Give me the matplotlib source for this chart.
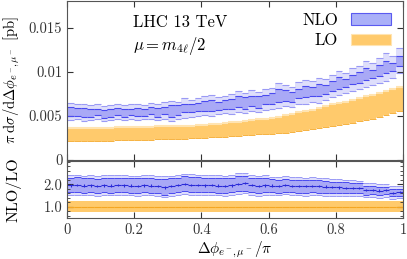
import matplotlib
matplotlib.use("Agg")
import matplotlib.pyplot as plt
import matplotlib.patches as mpatches
from matplotlib.ticker import MultipleLocator
import numpy as np

plt.rcParams['font.family'] = 'serif'
plt.rcParams['font.serif'] = ['cmr10']
plt.rcParams['mathtext.fontset'] = 'cm'
plt.rcParams['axes.formatter.use_mathtext'] = True

# bin edges of the distribution (50 bins in dphi/pi)
edges = np.linspace(0.0, 1.0, 51)

# NLO band in pb: outer edges and MC error strip width
nlo_hi = [0.0065, 0.0063, 0.0064, 0.0062, 0.0063, 0.0061, 0.0062, 0.0064, 0.0062, 0.0063,
          0.0064, 0.0062, 0.0065, 0.0063, 0.0066, 0.0067, 0.0066, 0.0070, 0.0068, 0.0070,
          0.0072, 0.0074, 0.0071, 0.0073, 0.0075, 0.0078, 0.0076, 0.0079, 0.0077, 0.0080,
          0.0082, 0.0087, 0.0085, 0.0083, 0.0088, 0.0091, 0.0089, 0.0093, 0.0092, 0.0096,
          0.0101, 0.0099, 0.0104, 0.0107, 0.0112, 0.0110, 0.0116, 0.0121, 0.0118, 0.0127]
nlo_lo = [0.0045, 0.0046, 0.0044, 0.0045, 0.0046, 0.0044, 0.0045, 0.0046, 0.0045, 0.0046,
          0.0045, 0.0046, 0.0047, 0.0045, 0.0046, 0.0044, 0.0047, 0.0048, 0.0049, 0.0050,
          0.0051, 0.0050, 0.0052, 0.0053, 0.0052, 0.0054, 0.0053, 0.0055, 0.0054, 0.0057,
          0.0058, 0.0059, 0.0061, 0.0060, 0.0063, 0.0064, 0.0066, 0.0065, 0.0068, 0.0071,
          0.0074, 0.0076, 0.0078, 0.0080, 0.0083, 0.0085, 0.0087, 0.0090, 0.0093, 0.0098]
nlo_err = [0.0005, 0.0004, 0.0005, 0.0004, 0.0005, 0.0004, 0.0004, 0.0005, 0.0004, 0.0005,
           0.0005, 0.0004, 0.0005, 0.0004, 0.0006, 0.0005, 0.0004, 0.0006, 0.0005, 0.0005,
           0.0005, 0.0006, 0.0005, 0.0005, 0.0006, 0.0006, 0.0005, 0.0006, 0.0005, 0.0006,
           0.0006, 0.0007, 0.0006, 0.0006, 0.0007, 0.0007, 0.0006, 0.0007, 0.0007, 0.0007,
           0.0007, 0.0007, 0.0008, 0.0007, 0.0008, 0.0008, 0.0008, 0.0009, 0.0008, 0.0009]

# LO band in pb
lo_hi = [0.0036, 0.0036, 0.0036, 0.0036, 0.0036, 0.0036, 0.0036, 0.0037, 0.0037, 0.0037,
         0.0037, 0.0037, 0.0037, 0.0038, 0.0038, 0.0038, 0.0038, 0.0039, 0.0039, 0.0040,
         0.0040, 0.0041, 0.0041, 0.0042, 0.0043, 0.0043, 0.0044, 0.0045, 0.0046, 0.0047,
         0.0048, 0.0049, 0.0051, 0.0052, 0.0054, 0.0055, 0.0057, 0.0059, 0.0061, 0.0063,
         0.0065, 0.0066, 0.0068, 0.0070, 0.0072, 0.0074, 0.0076, 0.0078, 0.0080, 0.0083]
lo_lo = [0.0022, 0.0022, 0.0022, 0.0022, 0.0022, 0.0022, 0.0022, 0.0023, 0.0023, 0.0023,
         0.0023, 0.0023, 0.0023, 0.0024, 0.0024, 0.0024, 0.0024, 0.0024, 0.0025, 0.0025,
         0.0025, 0.0026, 0.0026, 0.0026, 0.0027, 0.0027, 0.0028, 0.0028, 0.0029, 0.0029,
         0.0030, 0.0031, 0.0031, 0.0032, 0.0033, 0.0034, 0.0035, 0.0036, 0.0037, 0.0039,
         0.0040, 0.0041, 0.0042, 0.0044, 0.0045, 0.0047, 0.0049, 0.0051, 0.0053, 0.0056]

# ratio NLO/LO
r_c = [1.95, 1.96, 1.94, 1.95, 1.93, 1.95, 1.94, 1.96, 1.95, 1.94,
       1.93, 1.95, 1.94, 1.92, 1.86, 1.93, 1.96, 2.00, 1.98, 1.97,
       1.95, 1.96, 1.94, 1.93, 1.95, 2.02, 2.04, 1.96, 1.93, 1.95,
       1.94, 1.92, 1.96, 1.93, 1.92, 1.91, 1.93, 1.92, 1.90, 1.89,
       1.86, 1.85, 1.83, 1.84, 1.74, 1.75, 1.72, 1.74, 1.62, 1.66]
r_hi = [2.40, 2.42, 2.38, 2.40, 2.37, 2.40, 2.39, 2.41, 2.40, 2.38,
        2.38, 2.40, 2.39, 2.37, 2.35, 2.38, 2.41, 2.47, 2.44, 2.42,
        2.40, 2.41, 2.39, 2.38, 2.40, 2.48, 2.50, 2.41, 2.38, 2.40,
        2.34, 2.32, 2.35, 2.32, 2.30, 2.29, 2.31, 2.29, 2.26, 2.24,
        2.22, 2.20, 2.17, 2.16, 2.05, 2.05, 2.00, 2.01, 1.92, 1.93]
r_lo = [1.52, 1.53, 1.51, 1.52, 1.50, 1.52, 1.51, 1.53, 1.52, 1.51,
        1.50, 1.52, 1.51, 1.49, 1.42, 1.50, 1.53, 1.56, 1.54, 1.53,
        1.52, 1.53, 1.51, 1.50, 1.52, 1.58, 1.60, 1.53, 1.50, 1.52,
        1.53, 1.51, 1.55, 1.52, 1.51, 1.50, 1.52, 1.51, 1.50, 1.49,
        1.50, 1.49, 1.48, 1.48, 1.42, 1.43, 1.41, 1.43, 1.36, 1.38]
r_err = 0.12
r_stat = 0.05
lo_r_hi = [1.26] * 50
lo_r_lo = [0.78] * 50

nlo_dark = '#a9a9f6'
nlo_light = '#dedefb'
nlo_line = '#4a4af0'
nlo_line2 = '#9a9af5'
lo_fill = '#ffca6c'
lo_light = '#ffe4b2'
lo_line = '#f5a623'

x0 = edges[:-1]
x1 = edges[1:]
xc = 0.5 * (x0 + x1)
w = edges[1] - edges[0]

fig = plt.figure(figsize=(4.07, 2.59), dpi=100)
ax = fig.add_axes([0.165, 0.382, 0.825, 0.614])
axr = fig.add_axes([0.165, 0.158, 0.825, 0.222])

nhi = np.array(nlo_hi)
nlo = np.array(nlo_lo)
ne = np.array(nlo_err)

# main panel: NLO
ax.bar(xc, nhi - nlo, bottom=nlo, width=w, color=nlo_light, linewidth=0)
ax.bar(xc, (nhi - ne) - (nlo + ne), bottom=nlo + ne, width=w, color=nlo_dark, linewidth=0)
ax.hlines(nhi, x0, x1, color=nlo_line2, lw=0.8)
ax.hlines(nlo, x0, x1, color=nlo_line2, lw=0.8)
ax.hlines(nhi - ne, x0, x1, color=nlo_line, lw=0.8)
ax.hlines(nlo + ne, x0, x1, color=nlo_line, lw=0.8)

# main panel: LO
lhi = np.array(lo_hi)
llo = np.array(lo_lo)
ax.bar(xc, lhi - llo, bottom=llo, width=w, color=lo_fill, linewidth=0)
ax.hlines(lhi, x0, x1, color=lo_light, lw=1.5)
ax.hlines(llo, x0, x1, color=lo_line, lw=0.6)

ax.set_xlim(0, 1)
ax.set_ylim(0, 0.018)
ax.set_yticks([0, 0.005, 0.01, 0.015])
ax.set_yticklabels(['0', '0.005', '0.01', '0.015'])
ax.xaxis.set_major_locator(MultipleLocator(0.2))
ax.tick_params(axis='both', direction='in', right=True, top=True, labelsize=10.5, length=4)
ax.tick_params(axis='x', labelbottom=False)
ax.set_ylabel(r'$\pi\;\mathrm{d}\sigma/\mathrm{d}\Delta\phi_{e^-\!,\mu^-}$ [pb]', fontsize=10.5)

ax.text(0.197, 0.865, 'LHC 13 TeV', transform=ax.transAxes, fontsize=12, va='center')
ax.text(0.197, 0.72, r'$\mu = m_{4\ell}/2$', transform=ax.transAxes, fontsize=12, va='center')

h_nlo = mpatches.Patch(facecolor='#aab0f8', edgecolor='#5a5af0', lw=0.8)
h_lo = mpatches.Patch(facecolor=lo_fill, edgecolor=lo_light, lw=0.8)
ax.legend([h_nlo, h_lo], ['NLO', 'LO'], loc='upper right', frameon=False, markerfirst=False,
          fontsize=12, handlelength=2.4, handleheight=0.7, borderaxespad=0.3, labelspacing=0.3)

# ratio panel
rhi = np.array(r_hi)
rlo = np.array(r_lo)
axr.bar(xc, np.array(lo_r_hi) - np.array(lo_r_lo), bottom=lo_r_lo, width=w, color=lo_fill, linewidth=0)
axr.hlines(np.ones(50), x0, x1, color=lo_line, lw=0.8)
axr.bar(xc, rhi - rlo, bottom=rlo, width=w, color=nlo_light, linewidth=0)
axr.bar(xc, (rhi - r_err) - (rlo + r_err), bottom=rlo + r_err, width=w, color=nlo_dark, linewidth=0)
axr.hlines(rhi, x0, x1, color=nlo_line2, lw=0.7)
axr.hlines(rlo, x0, x1, color=nlo_line2, lw=0.7)
axr.hlines(rhi - r_err, x0, x1, color=nlo_line, lw=0.7)
axr.hlines(rlo + r_err, x0, x1, color=nlo_line, lw=0.7)
axr.errorbar(xc, r_c, xerr=w / 2, yerr=r_stat, fmt='none', ecolor='#2a2ad8', elinewidth=0.8)

axr.set_xlim(0, 1)
axr.set_ylim(0.5, 3.05)
axr.set_yticks([1.0, 2.0])
axr.set_yticklabels(['1.0', '2.0'])
axr.yaxis.set_minor_locator(MultipleLocator(0.2))
axr.set_xticks([0, 0.2, 0.4, 0.6, 0.8, 1.0])
axr.set_xticklabels(['0', '0.2', '0.4', '0.6', '0.8', '1'])
axr.tick_params(axis='both', which='both', direction='in', right=True, top=True, labelsize=10.5)
axr.tick_params(axis='both', which='major', length=4)
axr.tick_params(axis='y', which='minor', length=2)
axr.set_ylabel('NLO/LO', fontsize=11.5)
axr.set_xlabel(r'$\Delta\phi_{e^-\!,\mu^-}/\pi$', fontsize=11, labelpad=2)

for a in (ax, axr):
    for s in a.spines.values():
        s.set_color('#555555')
    a.tick_params(colors='#333333', which='both')

ax.yaxis.set_label_coords(-0.135, 0.5)
axr.yaxis.set_label_coords(-0.135, 0.5)

fig.savefig('out.png', dpi=100)
